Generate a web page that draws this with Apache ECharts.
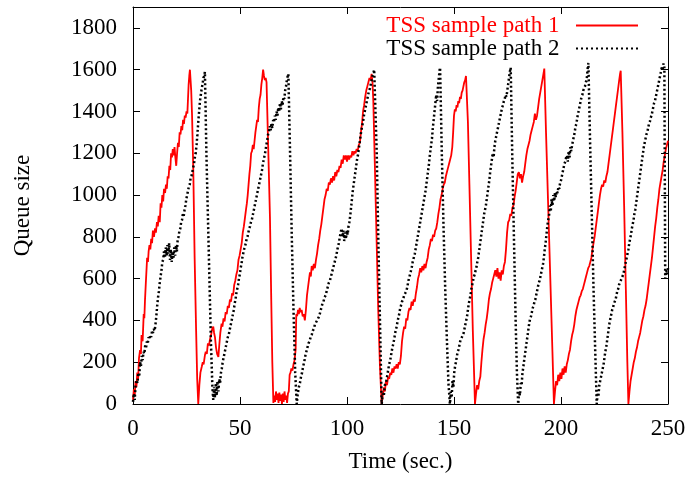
<!DOCTYPE html>
<html>
<head>
<meta charset="utf-8">
<script src="https://cdn.jsdelivr.net/npm/echarts@6/dist/echarts.min.js"></script>
<style>html,body{margin:0;padding:0;background:#fff}#c{width:691px;height:481px}</style>
</head>
<body>
<div id="c"></div>
<script>
// ---- data ----
var seriesNames = ['TSS sample path 1', 'TSS sample path 2'];
var xTicks = [0, 50, 100, 150, 200, 250];
var yTicks = [0, 200, 400, 600, 800, 1000, 1200, 1400, 1600, 1800];

// [time (sec.), queue size]
var path1 = [
[0,20],[0.4,70],[0.8,40],[1.2,110],[1.6,80],[2,150],[2.4,120],[2.8,220],[3.3,258],[3.7,240],[4,330],[4.5,300],[5,430],[5.3,410],[5.6,496],[6,580],[6.3,640],[6.6,700],[7,680],[7.3,730],[7.7,760],[8.1,740],[8.5,790],[8.9,770],[9.3,830],[9.8,800],[10.3,840],[10.7,820],[11.2,870],[11.6,850],[12,900],[12.5,870],[12.9,960],[13.3,940],[13.7,1000],[14.1,970],[14.5,1030],[15,1010],[15.4,1050],[15.8,1030],[16.2,1090],[16.6,1080],[17,1140],[17.4,1120],[17.8,1200],[18.2,1180],[18.6,1220],[19,1190],[19.4,1230],[19.8,1180],[20.2,1140],[20.6,1200],[21,1250],[21.4,1230],[21.8,1300],[22.2,1290],[22.6,1330],[23,1310],[23.4,1360],[23.8,1340],[24.2,1380],[24.6,1370],[25,1400],[25.4,1390],[25.7,1460],[26,1530],[26.3,1570],[26.6,1600],[26.9,1550],[27.2,1500],[27.6,1380],[28,1200],[28.2,1102],[28.8,700],[29.5,350],[30,120],[30.5,0],
[31,90],[31.5,150],[32.1,177],[32.6,200],[33,190],[33.6,233],[34,250],[34.5,240],[35,290],[35.5,280],[36,310],[36.5,330],[37,360],[37.5,370],[37.9,340],[38.3,320],[38.8,270],[39.3,240],[39.9,225],[40.3,280],[40.8,340],[41.4,385],[41.8,370],[42.3,410],[42.8,395],[43.3,440],[43.8,430],[44.3,470],[44.8,460],[45.3,500],[45.8,490],[46.3,530],[46.8,520],[47.3,570],[47.8,590],[48.3,620],[48.8,640],[49.3,690],[49.8,710],[50.3,740],[50.8,770],[51.3,820],[51.8,850],[52.3,890],[52.8,930],[53.2,960],[53.6,1000],[54,1050],[54.4,1100],[54.8,1140],[55.2,1200],[55.6,1210],[56,1240],[56.4,1220],[56.8,1260],[57.2,1300],[57.6,1330],[58,1360],[58.4,1350],[58.8,1420],[59.2,1460],[59.6,1480],[60,1530],[60.4,1560],[60.8,1600],[61.2,1570],[61.6,1550],[62,1560],[62.4,1540],[63,1300],[63.5,1100],[64,893],[64.6,500],[65.1,200],[65.6,5],
[66,40],[66.4,10],[66.8,60],[67.2,20],[67.6,50],[68,5],[68.4,55],[68.8,15],[69.2,45],[69.6,0],[70,50],[70.4,10],[70.8,60],[71.2,20],[71.6,40],[72,5],[72.4,50],[72.8,60],
[73.2,140],[73.6,150],[74,170],[74.5,160],[75,190],[75.5,210],[76,260],[76.3,430],[76.7,420],[77.1,450],[77.5,430],[77.9,460],[78.3,440],[78.8,450],[79.3,420],[79.8,430],[80.3,400],[80.8,450],[81.3,520],[81.8,560],[82.3,600],[82.7,630],[83.1,610],[83.5,660],[84,640],[84.5,670],[85,650],[85.5,690],[86,720],[86.5,760],[87,790],[87.5,830],[88,860],[88.5,900],[89,940],[89.5,980],[90,1000],[90.5,1030],[91,1020],[91.5,1060],[92,1050],[92.5,1080],[93,1060],[93.5,1090],[94,1070],[94.5,1110],[95,1090],[95.5,1120],[96,1110],[96.5,1140],[97,1130],[97.5,1170],[98,1150],[98.5,1190],[99,1170],[99.5,1190],[100,1160],[100.5,1190],[101,1170],[101.5,1190],[102,1180],[102.5,1210],[103,1190],[103.5,1210],[104,1200],[104.5,1220],[105,1210],[105.5,1240],[106,1250],[106.5,1300],[107,1340],[107.5,1400],[108,1430],[108.5,1470],[109,1500],[109.5,1520],[110,1540],[110.5,1560],[111,1550],[111.5,1580],[111.9,1540],[112.3,1450],[113,1150],[113.8,800],[114.6,450],[115.4,180],[116.2,0],
[116.7,40],[117.2,80],[117.7,60],[118.2,110],[118.7,90],[119.2,130],[119.7,120],[120.2,150],[120.7,140],[121.2,170],[121.7,150],[122.2,180],[122.7,170],[123.2,190],[123.7,170],[124.2,200],[124.7,190],[125.2,230],[125.7,300],[126.2,340],[126.7,370],[127.2,360],[127.7,410],[128.2,400],[128.7,440],[129.2,460],[129.7,450],[130.2,490],[130.7,470],[131.2,500],[131.7,490],[132.2,530],[132.7,560],[133.2,600],[133.7,620],[134.2,650],[134.7,630],[135.2,660],[135.7,640],[136.2,670],[136.7,650],[137.2,680],[137.7,700],[138.2,740],[138.7,760],[139.2,790],[139.7,780],[140.2,810],[140.7,800],[141.2,830],[141.7,840],[142.2,870],[142.7,910],[143.2,940],[143.7,980],[144.2,1000],[144.7,1030],[145.2,1050],[145.7,1060],[146.2,1090],[146.7,1110],[147.2,1130],[147.7,1150],[148.2,1170],[148.7,1190],[149.2,1230],[149.6,1300],[150,1380],[150.4,1410],[150.8,1400],[151.2,1430],[151.6,1420],[152,1450],[152.4,1440],[152.8,1470],[153.2,1460],[153.6,1490],[154,1500],[154.4,1520],[154.8,1540],[155.2,1550],[155.6,1570],[155.9,1575],[156.5,1350],[157.2,1050],[158,700],[158.8,350],[159.8,0],
[160.3,50],[160.8,90],[161.3,70],[161.8,110],[162.3,130],[162.8,200],[163.3,260],[163.8,310],[164.3,340],[164.8,380],[165.3,410],[165.8,450],[166.3,500],[166.8,530],[167.3,550],[167.8,580],[168.3,600],[168.8,620],[169.3,640],[169.8,610],[170.3,650],[170.8,600],[171.3,630],[171.8,590],[172.3,640],[172.8,620],[173.3,660],[173.8,680],[174.3,740],[174.8,820],[175.3,870],[175.8,880],[176.3,910],[176.8,900],[177.3,940],[177.8,950],[178.3,990],[178.8,1020],[179.3,1060],[179.8,1100],[180.3,1110],[180.8,1080],[181.3,1100],[181.8,1060],[182.3,1090],[182.8,1110],[183.3,1150],[183.8,1190],[184.3,1220],[184.8,1240],[185.3,1260],[185.8,1290],[186.3,1310],[186.8,1330],[187.3,1350],[187.8,1390],[188.3,1360],[188.8,1380],[189.3,1420],[189.8,1460],[190.3,1490],[190.8,1520],[191.3,1550],[191.8,1580],[192.2,1605],[193,1300],[194,950],[195,600],[196,250],[196.7,0],
[197.2,60],[197.7,110],[198.2,90],[198.7,140],[199.2,110],[199.7,150],[200.2,120],[200.7,170],[201.2,140],[201.7,180],[202.2,150],[202.7,190],[203.2,210],[203.7,240],[204.2,260],[204.7,300],[205.2,330],[205.7,350],[206.2,380],[206.7,420],[207.2,450],[207.7,470],[208.2,490],[208.7,510],[209.2,520],[209.7,540],[210.2,550],[210.7,570],[211.2,590],[211.7,610],[212.2,630],[212.7,650],[213.2,660],[213.7,680],[214.2,700],[214.7,740],[215.2,770],[215.7,800],[216.2,840],[216.7,880],[217.2,920],[217.7,960],[218.2,1000],[218.7,1030],[219.2,1050],[219.7,1040],[220.2,1070],[220.7,1060],[221.2,1090],[221.7,1110],[222.2,1150],[222.7,1190],[223.2,1230],[223.7,1270],[224.2,1310],[224.7,1350],[225.2,1390],[225.7,1430],[226.2,1470],[226.7,1510],[227.2,1550],[227.6,1580],[227.9,1595],[228.7,1300],[229.5,950],[230.3,550],[231,200],[231.5,0],
[232,60],[232.5,110],[233,140],[233.5,170],[234,200],[234.5,220],[235,250],[235.5,270],[236,300],[236.5,320],[237,340],[237.5,370],[238,400],[238.5,420],[239,450],[239.5,470],[240,500],[240.5,540],[241,580],[241.5,620],[242,660],[242.5,700],[243,750],[243.5,800],[244,850],[244.5,890],[245,940],[245.5,980],[246,1030],[246.5,1060],[247,1090],[247.5,1120],[248,1160],[248.5,1190],[249,1220],[249.5,1240],[250,1260]
];

var path2 = [
[0,10],[0.4,50],[0.8,20],[1.2,90],[1.7,115],[2.1,100],[2.5,150],[2.9,130],[3.3,200],[3.7,180],[4.1,230],[4.5,210],[4.9,250],[5.3,240],[5.7,280],[6.1,270],[6.5,300],[6.9,290],[7.3,320],[7.7,310],[8.1,330],[8.5,320],[8.9,350],[9.3,340],[9.7,360],[10.1,350],[10.5,380],[10.9,420],[11.3,470],[11.7,510],[12.1,540],[12.5,580],[12.9,610],[13.3,640],[13.7,680],[14.1,690],[14.5,730],[14.9,700],[15.3,750],[15.7,710],[16.1,760],[16.5,720],[16.9,770],[17.3,690],[17.7,740],[18.1,680],[18.5,730],[18.9,700],[19.3,750],[19.7,710],[20.1,760],[20.5,730],[20.9,790],[21.3,800],[21.7,830],[22.1,840],[22.5,870],[22.9,880],[23.3,910],[23.7,900],[24.1,930],[24.5,950],[24.9,980],[25.3,1000],[25.7,1020],[26.1,1040],[26.5,1050],[26.9,1080],[27.3,1090],[27.7,1110],[28.1,1130],[28.5,1150],[28.9,1180],[29.3,1200],[29.7,1240],[30.1,1290],[30.5,1350],[30.9,1400],[31.3,1450],[31.7,1480],[32.1,1510],[32.5,1530],[32.9,1560],[33.3,1570],[33.6,1590],[34.3,1200],[35,900],[35.7,600],[36.4,300],[37.1,80],[37.5,20],
[37.9,80],[38.3,30],[38.7,100],[39.1,40],[39.5,110],[39.9,60],[40.3,120],[40.7,100],
[41.1,150],[41.5,170],[41.9,200],[42.3,220],[42.7,240],[43.1,260],[43.5,280],[43.9,300],[44.3,320],[44.7,330],[45.1,350],[45.5,370],[45.9,390],[46.3,410],[46.7,430],[47.1,450],[47.5,480],[47.9,500],[48.3,530],[48.7,550],[49.1,570],[49.5,600],[49.9,620],[50.3,650],[50.7,670],[51.1,700],[51.5,720],[51.9,740],[52.3,750],[52.7,770],[53.1,790],[53.5,800],[53.9,820],[54.3,840],[54.7,850],[55.1,870],[55.5,880],[55.9,900],[56.3,920],[56.7,940],[57.1,960],[57.5,980],[57.9,1000],[58.3,1020],[58.7,1040],[59.1,1060],[59.5,1080],[59.9,1100],[60.3,1120],[60.7,1150],[61.1,1170],[61.5,1190],[61.9,1210],[62.3,1240],[62.7,1260],[63.1,1290],[63.5,1300],[63.9,1330],[64.3,1310],[64.7,1340],[65.1,1320],[65.5,1360],[65.9,1350],[66.3,1380],[66.7,1360],[67.1,1400],[67.5,1380],[67.9,1420],[68.3,1400],[68.7,1440],[69.1,1410],[69.5,1450],[69.9,1430],[70.3,1470],[70.7,1460],[71.1,1500],[71.5,1520],[71.9,1550],[72.3,1570],[72.6,1580],[73.4,1200],[74.2,800],[75,450],[75.8,150],[76.5,0],
[77,50],[77.5,80],[78,100],[78.5,130],[79,150],[79.5,180],[80,200],[80.5,230],[81,250],[81.5,270],[82,290],[82.5,300],[83,320],[83.5,330],[84,350],[84.5,360],[85,380],[85.5,390],[86,400],[86.5,410],[87,420],[87.5,440],[88,460],[88.5,480],[89,490],[89.5,510],[90,520],[90.5,540],[91,560],[91.5,580],[92,590],[92.5,610],[93,630],[93.5,650],[94,670],[94.5,690],[95,710],[95.5,740],[96,760],[96.5,790],[97,820],[97.5,840],[97.9,800],[98.3,830],[98.7,780],[99.1,820],[99.5,790],[99.9,830],[100.3,810],[100.7,850],[101.1,870],[101.5,900],[101.9,940],[102.3,980],[102.7,1020],[103.1,1050],[103.5,1080],[103.9,1110],[104.3,1140],[104.7,1170],[105.1,1190],[105.5,1220],[105.9,1250],[106.3,1280],[106.7,1310],[107.1,1330],[107.5,1350],[107.9,1380],[108.3,1400],[108.7,1420],[109.1,1440],[109.5,1460],[109.9,1480],[110.3,1500],[110.7,1510],[111.1,1530],[111.5,1550],[111.9,1570],[112.3,1580],[112.7,1600],[113.1,1605],[113.9,1200],[114.6,800],[115.4,400],[116.2,0],
[116.7,50],[117.2,40],[117.7,90],[118.2,100],[118.7,130],[119.2,160],[119.7,190],[120.2,210],[120.7,240],[121.2,270],[121.7,290],[122.2,320],[122.7,350],[123.2,370],[123.7,400],[124.2,420],[124.7,450],[125.2,470],[125.7,490],[126.2,500],[126.7,520],[127.2,530],[127.7,540],[128.2,560],[128.7,590],[129.2,610],[129.7,630],[130.2,650],[130.7,680],[131.2,700],[131.7,720],[132.2,750],[132.7,780],[133.2,810],[133.7,840],[134.2,870],[134.7,900],[135.2,930],[135.7,960],[136.2,990],[136.7,1020],[137.2,1060],[137.7,1100],[138.2,1140],[138.7,1190],[139.2,1230],[139.7,1270],[140.1,1320],[140.5,1360],[140.9,1400],[141.3,1440],[141.7,1480],[142.1,1450],[142.5,1520],[142.9,1560],[143.3,1600],[143.5,1610],[144.3,1200],[145.1,850],[145.9,550],[146.7,300],[147.4,100],[148.1,0],
[148.5,60],[148.9,30],[149.3,110],[149.7,80],[150.1,150],[150.5,180],[150.9,200],[151.3,225],[151.7,250],[152.1,260],[152.5,280],[152.9,300],[153.3,310],[153.7,320],[154.1,330],[154.5,340],[154.9,360],[155.3,380],[155.7,400],[156.1,420],[156.5,450],[156.9,480],[157.3,500],[157.7,520],[158.1,550],[158.5,570],[158.9,590],[159.3,610],[159.7,620],[160.1,640],[160.5,655],[160.9,680],[161.3,700],[161.7,730],[162.1,760],[162.5,790],[162.9,820],[163.3,850],[163.7,880],[164.1,910],[164.5,930],[164.9,950],[165.3,980],[165.7,1010],[166.1,1040],[166.5,1070],[166.9,1110],[167.3,1140],[167.7,1170],[168.1,1200],[168.5,1180],[168.9,1230],[169.3,1260],[169.7,1280],[170.1,1300],[170.5,1320],[170.9,1340],[171.3,1360],[171.7,1380],[172.1,1400],[172.5,1420],[172.9,1430],[173.3,1450],[173.7,1460],[174.1,1480],[174.5,1470],[174.9,1500],[175.3,1530],[175.7,1560],[176.1,1590],[176.5,1610],[177.2,1200],[178,800],[178.8,400],[179.4,150],[180,0],
[180.4,60],[180.8,40],[181.2,100],[181.6,90],[182,150],[182.4,177],[182.8,210],[183.2,240],[183.6,270],[184,300],[184.4,330],[184.8,360],[185.2,390],[185.6,410],[186,420],[186.4,440],[186.8,460],[187.2,470],[187.6,490],[188,500],[188.4,520],[188.8,540],[189.2,560],[189.6,580],[190,590],[190.4,610],[190.8,630],[191.2,650],[191.6,670],[192,700],[192.4,740],[192.8,770],[193.2,810],[193.6,850],[194,880],[194.4,900],[194.8,950],[195.2,920],[195.6,980],[196,950],[196.4,1000],[196.8,970],[197.2,1010],[197.6,990],[198,1020],[198.4,1010],[198.8,1040],[199.2,1030],[199.6,1060],[200,1070],[200.4,1090],[200.8,1110],[201.2,1130],[201.6,1150],[202,1160],[202.4,1180],[202.8,1190],[203.2,1160],[203.6,1210],[204,1180],[204.4,1230],[204.8,1210],[205.2,1240],[205.6,1260],[206,1280],[206.4,1300],[206.8,1330],[207.2,1340],[207.6,1370],[208,1390],[208.4,1410],[208.8,1430],[209.2,1450],[209.6,1470],[210,1480],[210.4,1500],[210.8,1510],[211.2,1520],[211.6,1540],[212,1550],[212.4,1600],[212.8,1632],[213.6,1250],[214.4,900],[215.2,550],[216,250],[216.7,0],
[217.1,50],[217.5,40],[217.9,90],[218.3,110],[218.7,130],[219.1,150],[219.5,170],[219.9,190],[220.3,220],[220.7,250],[221.1,270],[221.5,300],[221.9,330],[222.3,360],[222.7,390],[223.1,410],[223.5,430],[223.9,450],[224.3,460],[224.7,480],[225.1,490],[225.5,500],[225.9,520],[226.3,540],[226.7,550],[227.1,570],[227.5,580],[227.9,590],[228.3,600],[228.7,610],[229.1,620],[229.5,640],[229.9,660],[230.3,680],[230.7,700],[231.1,720],[231.5,740],[231.9,770],[232.3,790],[232.7,810],[233.1,840],[233.5,860],[233.9,880],[234.3,910],[234.7,930],[235.1,960],[235.5,990],[235.9,1020],[236.3,1050],[236.7,1080],[237.1,1110],[237.5,1140],[237.9,1170],[238.3,1200],[238.7,1230],[239.1,1250],[239.5,1270],[239.9,1290],[240.3,1300],[240.7,1320],[241.1,1340],[241.5,1350],[241.9,1370],[242.3,1380],[242.7,1400],[243.1,1420],[243.5,1440],[243.9,1450],[244.3,1470],[244.7,1490],[245.1,1510],[245.5,1530],[245.9,1550],[246.3,1570],[246.7,1590],[247.1,1610],[247.5,1600],[247.9,1630],[248.3,1610],[248.5,1100],[248.7,600],[249.2,640],[249.6,620],[250,650]
];

var FONT = '"Liberation Serif", "DejaVu Serif", serif';
var chart = echarts.init(document.getElementById('c'), null, { renderer: 'canvas' });

var tickCommon = { show: true, inside: true, length: 7, lineStyle: { color: '#000', width: 1 } };
var lineCommon = { show: true, onZero: false, lineStyle: { color: '#000', width: 1 } };

// legend sample icons (solid bar / row of dots)
var solidIcon = 'path://M0,0h62v2h-62z';
var dotIcon = 'path://';
for (var k = 0; k <= 12; k++) { dotIcon += 'M' + (k * 5) + ',0h2v2h-2z'; }

chart.setOption({
  animation: false,
  backgroundColor: '#fff',
  grid: { left: 133, right: 23, top: 7, bottom: 77, containLabel: false },
  legend: {
    orient: 'vertical',
    right: 48,
    top: 9,
    align: 'right',
    itemWidth: 62,
    itemHeight: 2,
    itemGap: 0,
    formatter: function (name) { return name + '  '; },
    textStyle: { fontFamily: FONT, fontSize: 23, color: '#000' },
    data: [
      { name: seriesNames[0], icon: solidIcon, itemStyle: { color: '#ff0000' }, textStyle: { color: '#ff0000' } },
      { name: seriesNames[1], icon: dotIcon, itemStyle: { color: '#000' } }
    ]
  },
  xAxis: [
    {
      type: 'value', min: 0, max: 250, interval: 50, position: 'bottom',
      name: 'Time (sec.)', nameLocation: 'middle', nameGap: 46,
      nameTextStyle: { fontFamily: FONT, fontSize: 23, color: '#000' },
      axisLine: lineCommon, axisTick: tickCommon, splitLine: { show: false },
      axisLabel: { fontFamily: FONT, fontSize: 23, color: '#000', margin: 13,
        formatter: function (v) { return xTicks.indexOf(v) >= 0 ? String(v) : ''; } }
    },
    {
      type: 'value', min: 0, max: 250, interval: 50, position: 'top',
      axisLine: lineCommon, axisTick: tickCommon, splitLine: { show: false },
      axisLabel: { show: false }
    }
  ],
  yAxis: [
    {
      type: 'value', min: 0, max: 1900, interval: 200, position: 'left',
      name: 'Queue size', nameLocation: 'middle', nameGap: 99, nameRotate: 90,
      nameTextStyle: { fontFamily: FONT, fontSize: 23, color: '#000' },
      axisLine: lineCommon, axisTick: tickCommon, splitLine: { show: false },
      axisLabel: { fontFamily: FONT, fontSize: 23, color: '#000', margin: 16,
        formatter: function (v) { return yTicks.indexOf(v) >= 0 ? String(v) : ''; } }
    },
    {
      type: 'value', min: 0, max: 1900, interval: 200, position: 'right',
      axisLine: lineCommon, axisTick: tickCommon, splitLine: { show: false },
      axisLabel: { show: false }
    }
  ],
  series: [
    {
      name: seriesNames[0], type: 'line', xAxisIndex: 0, yAxisIndex: 0,
      data: path1, showSymbol: false, symbol: 'none', clip: true,
      color: '#ff0000',
      lineStyle: { color: '#ff0000', width: 1.8 }
    },
    {
      name: seriesNames[1], type: 'line', xAxisIndex: 0, yAxisIndex: 0,
      data: path2, showSymbol: false, symbol: 'none', clip: true,
      color: '#000',
      lineStyle: { color: '#000', width: 2.5, type: [2, 2.5] }
    }
  ]
});
</script>
</body>
</html>
